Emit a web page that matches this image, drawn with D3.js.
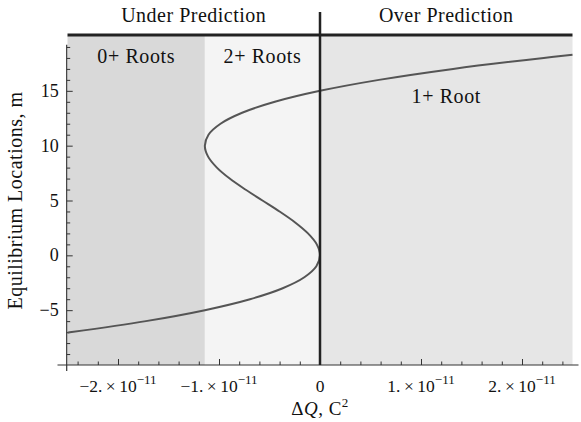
<!DOCTYPE html>
<html><head><meta charset="utf-8">
<script src="https://cdn.jsdelivr.net/npm/d3@7"></script>
<style>
html,body{margin:0;padding:0;background:#fff;}
svg text{font-family:"Liberation Serif","DejaVu Serif",serif;fill:#111;}
</style></head>
<body><svg id="c" width="581" height="422"></svg>
<script>
// ---- data (ΔQ in units of 1e-11 C², equilibrium location in m) ----
const locations = [-7.05,-7,-6,-5,-4,-3,-2,-1,0,1,2,3,4,5,6,7,8,9,10,11,12,13,14,15,16,17,18,18.28];
const deltaQ    = [-2.50,-2.458,-1.724,-1.14,-0.693,-0.369,-0.155,-0.036,0,-0.032,-0.119,-0.246,-0.401,-0.570,-0.739,-0.894,-1.021,-1.108,-1.14,-1.104,-0.985,-0.771,-0.447,0,0.584,1.318,2.216,2.50];
const regionLabels = ["0+ Roots","2+ Roots","1+ Root"];
const regionBounds = [-2.5,-1.14,0,2.5];
const headerLabels = ["Under Prediction","Over Prediction"];
const xMajorTicks = [-2,-1,0,1,2];
const xMinorTicks = [-2.4,-2.2,-1.8,-1.6,-1.4,-1.2,-0.8,-0.6,-0.4,-0.2,0.2,0.4,0.6,0.8,1.2,1.4,1.6,1.8,2.2,2.4];
const yMajorTicks = [-5,0,5,10,15];
const yMinorTicks = [-9,-8,-7,-6,-4,-3,-2,-1,1,2,3,4,6,7,8,9,11,12,13,14,16,17,18,19];
const xDomain = [-2.5,2.5];
const yDomain = [-10,20];

const svg = d3.select("#c");
const x = d3.scaleLinear().domain(xDomain).range([67.5,572.5]);
const y = d3.scaleLinear().domain(yDomain).range([365,36]);
const fills = ["#d9d9d9","#f4f4f4","#e6e6e6"];

// shaded regions
svg.append("g").selectAll("rect").data(regionLabels).join("rect")
  .attr("x",(d,i)=>x(regionBounds[i]))
  .attr("width",(d,i)=>x(regionBounds[i+1])-x(regionBounds[i]))
  .attr("y",y(yDomain[1]))
  .attr("height",y(yDomain[0])-y(yDomain[1]))
  .attr("fill",(d,i)=>fills[i]);

// region labels
const labelY = [17.5,17.5,13.9];
svg.append("g").selectAll("text").data(regionLabels).join("text")
  .attr("x",(d,i)=>(x(regionBounds[i])+x(regionBounds[i+1]))/2)
  .attr("y",(d,i)=>y(labelY[i]))
  .attr("text-anchor","middle").attr("font-size",20).attr("letter-spacing",0.6).text(d=>d);

// axes
const axisColor="#333";
const gx = svg.append("g").attr("transform",`translate(0,${y(yDomain[0])})`);
gx.call(d3.axisBottom(x).tickValues(xMajorTicks).tickSize(-6).tickPadding(14).tickFormat(""));
gx.append("g").call(d3.axisBottom(x).tickValues(xMinorTicks).tickSize(-3.5).tickFormat(""));
gx.selectAll(".domain").remove();
gx.selectAll("line").attr("stroke",axisColor);
gx.append("line").attr("x1",x.range()[0]-10).attr("x2",x.range()[1]+6).attr("stroke",axisColor).attr("stroke-width",1.2);
// x tick labels with superscripts
xMajorTicks.forEach(v=>{
  const t = gx.append("text").attr("x",x(v)).attr("y",27).attr("text-anchor","middle").attr("font-size",17.5);
  if(v===0){ t.text("0"); }
  else {
    t.append("tspan").text((v<0?"\u2212":"")+Math.abs(v)+".\u2009\u00d7\u200910");
    t.append("tspan").attr("dy",-8).attr("font-size",13).text("\u221211");
  }
});

const gy = svg.append("g").attr("transform",`translate(${x(xDomain[0])-0.8},0)`);
gy.call(d3.axisRight(y).tickValues(yMajorTicks).tickSize(6).tickFormat(""));
gy.append("g").call(d3.axisRight(y).tickValues(yMinorTicks).tickSize(3.5).tickFormat(""));
gy.selectAll(".domain").remove();
gy.selectAll("line").attr("stroke",axisColor);
gy.append("line").attr("y1",y(19.2)).attr("y2",y(yDomain[0])+6).attr("stroke",axisColor).attr("stroke-width",1.2);
gy.selectAll(".ylab").data(yMajorTicks).join("text").attr("class","ylab")
  .attr("x",-8).attr("y",d=>y(d)+6).attr("text-anchor","end").attr("font-size",18)
  .text(d=>d<0?"\u2212"+Math.abs(d):d);

// curve
const pts = locations.map((l,i)=>[deltaQ[i],l]);
svg.append("path").datum(pts)
  .attr("d",d3.line().x(d=>x(d[0])).y(d=>y(d[1])).curve(d3.curveCatmullRom.alpha(0.5)))
  .attr("fill","none").attr("stroke","#555").attr("stroke-width",2);

// top bar and zero line
svg.append("line").attr("x1",x(xDomain[0])).attr("x2",x(xDomain[1]))
  .attr("y1",y(yDomain[1])-1).attr("y2",y(yDomain[1])-1).attr("stroke","#222").attr("stroke-width",3);
svg.append("line").attr("x1",x(0)).attr("x2",x(0)).attr("y1",12).attr("y2",y(yDomain[0]))
  .attr("stroke","#222").attr("stroke-width",2.5);

// headers
svg.append("g").selectAll("text").data(headerLabels).join("text")
  .attr("x",(d,i)=>i===0?(x(xDomain[0])+x(0))/2:(x(0)+x(xDomain[1]))/2)
  .attr("y",22).attr("text-anchor","middle").attr("font-size",20).attr("letter-spacing",0.5).text(d=>d);

// axis titles
const xt = svg.append("text").attr("x",x(0)).attr("y",415).attr("text-anchor","middle").attr("font-size",19).attr("letter-spacing",0.5);
xt.append("tspan").text("\u0394");
xt.append("tspan").attr("font-style","italic").text("Q");
xt.append("tspan").text(", C");
xt.append("tspan").attr("dy",-8).attr("font-size",13).text("2");
svg.append("text").attr("transform",`translate(22,${(y(yDomain[0])+y(yDomain[1]))/2}) rotate(-90)`)
  .attr("text-anchor","middle").attr("font-size",20).attr("letter-spacing",0.5).text("Equilibrium Locations, m");
</script></body></html>
